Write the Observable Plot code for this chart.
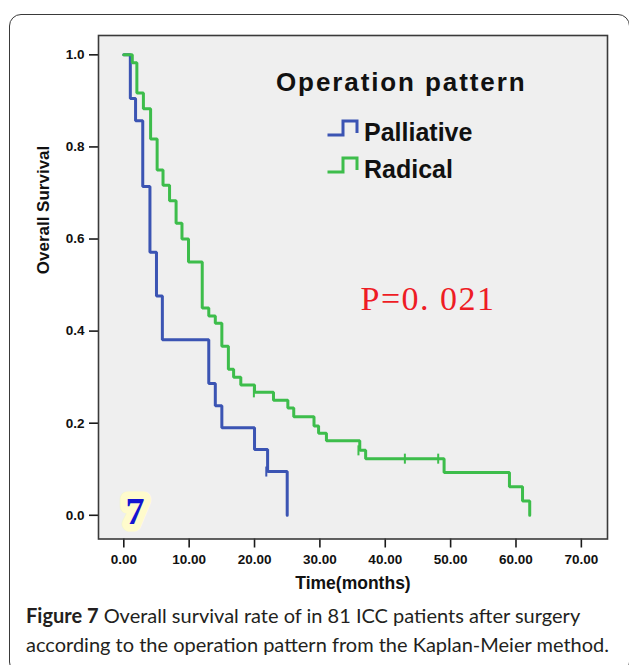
<!DOCTYPE html>
<html><head><meta charset="utf-8">
<script src="https://cdn.jsdelivr.net/npm/d3@7"></script>
<script src="https://cdn.jsdelivr.net/npm/@observablehq/plot@0.6"></script>
<style>
html,body{margin:0;padding:0;background:#fff}
body{width:629px;height:665px;overflow:hidden;position:relative;font-family:"Liberation Sans",Arial,sans-serif}
#border{position:absolute;left:9px;top:14px;width:621px;height:660px;border:1.5px solid #3a3a3a;border-radius:12px;box-sizing:border-box}
#chart{position:absolute;left:0;top:0}
#overlay{position:absolute;left:0;top:0;pointer-events:none}
#caption{position:absolute;left:26px;top:601px;font-family:Lato,"Open Sans",sans-serif;font-size:20px;line-height:29px;color:#231f20;white-space:nowrap}
#caption b{font-weight:bold}
</style></head>
<body>
<div id="border"></div>
<div id="chart"></div>
<svg id="overlay" width="629" height="665"></svg>
<div id="caption"><b>Figure 7</b> Overall survival rate of in 81 ICC patients after surgery<br>according to the operation pattern from the Kaplan-Meier method.</div>
<script>
// ---- data ----
const palliativeTime = [0, 1.0, 1.8, 2.9, 4.0, 5.0, 5.9, 13.0, 14.0, 15.0, 20.0, 22.0, 25.0];
const palliativeSurv = [1.0, 0.905, 0.857, 0.714, 0.571, 0.476, 0.381, 0.286, 0.238, 0.190, 0.143, 0.095, 0.0];
const radicalTime = [0, 1.3, 2.0, 3.0, 4.1, 5.1, 6.0, 7.0, 8.0, 8.9, 9.9, 12.0, 13.0, 14.0, 15.0, 16.0, 16.8, 17.9, 20.0, 22.9, 25.1, 26.0, 29.1, 29.8, 31.0, 36.1, 37.0, 49.0, 59.0, 61.0, 62.1];
const radicalSurv = [1.0, 0.983, 0.917, 0.883, 0.817, 0.75, 0.717, 0.683, 0.634, 0.60, 0.55, 0.45, 0.433, 0.417, 0.367, 0.317, 0.30, 0.283, 0.267, 0.25, 0.233, 0.214, 0.194, 0.178, 0.162, 0.141, 0.123, 0.093, 0.062, 0.031, 0.0];
const palliativeCensorTime = [21.8];
const palliativeCensorSurv = [0.095];
const radicalCensorTime = [19.9, 35.9, 43.0, 48.1];
const radicalCensorSurv = [0.267, 0.141, 0.123, 0.123];
const xTicks = [0, 10, 20, 30, 40, 50, 60, 70];
const yTicks = [0, 0.2, 0.4, 0.6, 0.8, 1.0];
const seriesNames = ["Palliative", "Radical"];
const seriesColors = ["#3b54b3", "#3dbd4b"];
const legendTitle = "Operation pattern";
const pValueText = "P=0. 021";
const panelLabel = "7";

// ---- tables ----
const pall = palliativeTime.map((t, i) => ({t, s: palliativeSurv[i]}));
const rad = radicalTime.map((t, i) => ({t, s: radicalSurv[i]}));
const pallC = palliativeCensorTime.map((t, i) => ({t, s: palliativeCensorSurv[i]}));
const radC = radicalCensorTime.map((t, i) => ({t, s: radicalCensorSurv[i]}));

const censorSymbol = {draw(ctx, size) { ctx.moveTo(0, -5); ctx.lineTo(0, 5); }};

const chart = Plot.plot({
  width: 629,
  height: 600,
  marginLeft: 98,
  marginRight: 22,
  marginTop: 35,
  marginBottom: 61.5,
  x: {domain: [-3.87, 74.0]},
  y: {domain: [-0.0515, 1.042]},
  style: {fontFamily: "'Liberation Sans', Arial, sans-serif", background: "transparent", color: "#1a1a1a"},
  marks: [
    Plot.frame({fill: "#efefef", stroke: "none"}),
    Plot.axisX({ticks: xTicks, tickFormat: d => d.toFixed(2), tickSize: 9, tickPadding: 6, strokeWidth: 1.6, label: null}),
    Plot.axisY({ticks: yTicks, tickFormat: d => d.toFixed(1), tickSize: 9, tickPadding: 5, strokeWidth: 1.6, label: null}),
    Plot.text([panelLabel], {frameAnchor: "bottom-left", dx: 27, dy: -15, lineAnchor: "bottom", fontSize: 38, fontWeight: "bold", fontFamily: "'Liberation Serif', serif", fill: "#1414d2", stroke: "#fffbcc", strokeWidth: 15, strokeLinejoin: "round"}),
    Plot.line(pall, {x: "t", y: "s", curve: "step-after", stroke: seriesColors[0], strokeWidth: 3, strokeLinejoin: "miter"}),
    Plot.line(rad, {x: "t", y: "s", curve: "step-after", stroke: seriesColors[1], strokeWidth: 3, strokeLinejoin: "miter"}),
    Plot.dot(pallC, {x: "t", y: "s", symbol: censorSymbol, stroke: seriesColors[0], fill: "none", strokeWidth: 2}),
    Plot.dot(radC, {x: "t", y: "s", symbol: censorSymbol, stroke: seriesColors[1], fill: "none", strokeWidth: 2}),
    Plot.text([pValueText], {frameAnchor: "top-left", dx: 262, dy: 274, lineAnchor: "bottom", textAnchor: "start", fontSize: 34, fontFamily: "'Liberation Serif', serif", fill: "#ee1c25"}),
    Plot.text(["Overall Survival"], {frameAnchor: "left", rotate: -90, dx: -55, dy: -13, lineAnchor: "middle", fontSize: 17, fontWeight: "bold", fill: "#111"}),
    Plot.text(["Time(months)"], {frameAnchor: "bottom", dy: 44.5, lineAnchor: "middle", fontSize: 17.5, fontWeight: "bold", fill: "#111"}),
    Plot.frame({stroke: "#3a3a3a", strokeWidth: 1.6})
  ]
});
document.getElementById("chart").appendChild(chart);
d3.select(chart).selectAll("text").filter(function() { return /^\d+\.\d+$/.test(this.textContent); })
  .attr("font-size", 13.5).attr("font-weight", "bold").attr("fill", "#111")
  .style("font-size", "13.5px").style("font-weight", "bold");
d3.select(chart).selectAll("text").filter(function() { return this.textContent === pValueText; })
  .style("letter-spacing", "1.5px");

// ---- legend (drawn inside the plot area, as in the reference) ----
const ov = d3.select("#overlay");
ov.append("text").attr("x", 276).attr("y", 91).attr("font-size", 26).attr("font-weight", "bold")
  .attr("letter-spacing", "1.9px").attr("fill", "#111").attr("font-family", "'Liberation Sans', Arial, sans-serif").text(legendTitle);
seriesNames.forEach((name, i) => {
  const by = 141 + i * 37;
  ov.append("path").attr("d", `M327.5,${by - 6}H343V${by - 20}H357V${by - 8}`)
    .attr("fill", "none").attr("stroke", seriesColors[i]).attr("stroke-width", 3);
  ov.append("text").attr("x", 364).attr("y", by).attr("font-size", 25).attr("font-weight", "bold")
    .attr("fill", "#111").attr("font-family", "'Liberation Sans', Arial, sans-serif").text(name);
});
</script>
</body></html>
